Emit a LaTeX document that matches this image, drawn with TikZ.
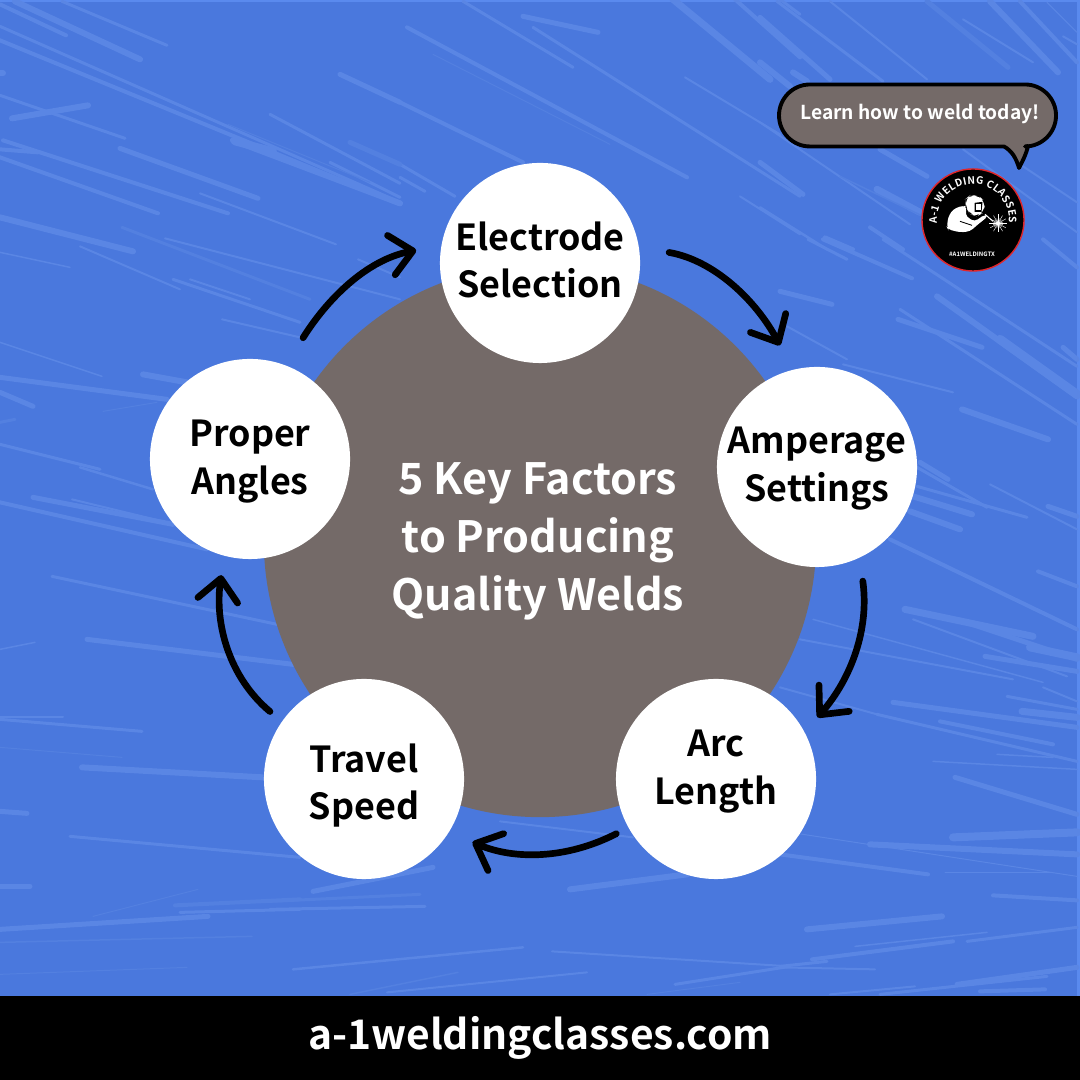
\documentclass[tikz,border=0pt]{standalone}
\usepackage{fontspec}
\setmainfont{Noto Sans CJK SC}[BoldFont={Noto Sans CJK SC Bold}]
\usetikzlibrary{arrows.meta, decorations.text}
\definecolor{wblue}{HTML}{4A78DD}
\definecolor{wstreak}{HTML}{5A86E4}
\definecolor{wfaint}{HTML}{5380E0}
\definecolor{wedge}{HTML}{5A8AEE}
\definecolor{wgray}{HTML}{746A68}
\definecolor{wred}{HTML}{E0262B}
\tikzset{
  factor/.style={circle, fill=white, inner sep=0pt, minimum size=2cm},
  factortext/.style={
    align=center, inner sep=0pt, font=\fontsize{10.2}{13.5}\selectfont\bfseries
  },
  flow/.style={
    line width=1.9pt, line cap=round, line join=round,
    -{Straight Barb[length=2.2mm, width=4mm, round]}
  },
  streak/.style={wstreak, line cap=round},
  pxgrid/.style={y=-0.01cm, yshift=10.8cm},
  lab/.style={text=#1, font=\bfseries}
}
\begin{document}
\begin{tikzpicture}[x=0.01cm, y=0.01cm]
  \useasboundingbox (0,0) rectangle (1080,1080);
  \fill[wblue] (0,0) rectangle (1080,1080);
  \fill[wedge] (0,1078) rectangle (1080,1080);
  \fill[wedge] (1077,84) rectangle (1080,1080);

  % sparks behind everything, in pixels from the top left
  \begin{scope}[pxgrid]
    \foreach \xa/\ya/\xb/\yb/\w in {
      0/5/66/36/4, 15/2/140/60/6, 62/2/167/46/3, 0/27/400/203/3, 0/41/400/205/4,
      0/74/3/74/6, 0/96/125/139/3, 12/119/88/106/6, 3/141/228/214/4, 0/150/38/153/4,
      0/158/158/214/4, 120/149/258/199/5, 233/141/400/204/6, 235/142/273/152/8,
      270/115/400/184/3, 340/75/400/103/5, 330/163/400/198/3, 200/194/336/245/2,
      0/218/133/252/6, 0/253/70/268/1.5, 80/247/180/290/2, 165/239/400/300/2,
      190/280/250/300/2, 358/260/400/278/2,
      407/28/687/178/4, 463/2/573/68/3, 523/17/598/33/5, 533/28/800/197/3,
      400/103/523/163/4, 400/165/455/197/3, 400/178/425/192/3, 673/0/770/80/7,
      735/0/800/58/4, 780/0/800/15/3, 685/78/780/135/2, 740/197/800/235/2,
      777/2/883/82/3, 760/18/830/80/5, 830/2/927/80/2, 760/63/790/87/6, 793/73/807/82/6,
      963/20/1033/63/2, 990/2/1058/73/6, 1020/2/1077/63/4, 1063/37/1077/45/2,
      1047/3/1077/33/1, 760/123/910/225/2, 760/163/803/195/5, 880/150/927/177/5,
      877/190/920/213/7, 760/208/827/250/2.5, 825/238/853/250/4, 870/228/903/250/4,
      963/150/1077/233/2, 1017/163/1077/203/2, 1043/240/1077/268/4,
      823/240/912/279/4, 808/240/847/260/3, 883/240/1077/367/3, 937/297/1077/397/6,
      1000/340/1077/395/9, 900/310/1077/425/3, 898/320/982/348/5, 962/410/1048/440/6,
      1063/348/1077/360/5, 780/292/832/305/5, 787/327/847/360/2, 843/365/953/393/2,
      920/463/948/480/5, 917/468/987/508/3, 917/487/1027/518/3, 913/497/972/515/6,
      910/512/960/530/6, 990/485/1077/530/2, 1048/507/1077/517/5, 890/540/1077/630/4,
      1038/572/1077/587/4, 905/610/1033/637/7, 957/620/1077/660/5, 1030/648/1077/658/8,
      985/657/1077/672/5, 913/620/1067/677/2, 800/640/1013/680/2, 813/620/1043/683/1.5,
      1043/688/1077/702/2, 1007/697/1077/710/3, 1022/712/1077/718/7, 893/703/1077/728/5,
      877/715/1077/762/3, 940/722/1053/745/4, 780/688/877/715/2, 997/755/1053/758/1.5,
      933/762/1077/770/1.5, 955/778/1077/815/5, 953/838/1077/833/8, 870/845/1077/855/6,
      790/833/1077/877/1, 945/873/1050/873/1, 780/855/928/875/4, 993/896/1077/901/4,
      807/930/942/917/6, 855/947/987/933/1.5, 812/960/953/942/4, 967/942/1077/928/3,
      780/968/875/970/2, 780/967/827/962/3, 957/985/1077/968/5, 830/995/915/987/2,
      880/995/1047/977/3, 980/992/1045/990/4,
      0/343/102/377/1.5, 0/378/167/400/5, 0/393/33/407/5, 143/375/187/383/6,
      0/445/100/470/3, 80/468/153/490/2.5, 33/498/173/525/5, 72/500/167/523/2,
      0/503/207/550/4, 52/577/277/625/3, 222/320/300/338/2, 173/280/300/323/3,
      0/650/35/643/1.5, 87/640/293/665/5, 0/718/63/718/2, 0/720/142/732/3,
      82/768/263/778/6, 0/812/27/814/5, 70/837/300/858/3, 0/887/30/887/5,
      180/913/300/910/3, 0/930/208/917/5, 313/892/433/868/5, 270/910/425/907/3,
      570/890/687/875/6, 293/970/523/948/2.5, 387/993/587/973/2, 552/952/790/967/2,
      675/985/790/967/3, 500/822/633/838/2} {
      \draw[streak, line width=\w*0.2845pt] (\xa,\ya) -- (\xb,\yb);
    }
    \foreach \xa/\ya/\xb/\yb/\w in {
      350/143/400/165/5, 228/125/370/183/1, 122/228/310/300/3, 433/55/610/145/1,
      927/2/1008/68/5, 840/177/923/217/1.5, 103/412/157/403/1, 0/423/15/420/3,
      0/748/122/758/1, 93/917/198/890/1, 175/906/300/900/4, 0/943/252/937/1.5,
      0/975/187/968/1, 270/902/420/895/3, 350/995/458/973/1.5, 647/995/740/983/1} {
      \draw[wfaint, line cap=round, line width=\w*0.2845pt] (\xa,\ya) -- (\xb,\yb);
    }
  \end{scope}

  \node[circle, fill=wgray, inner sep=0pt, minimum size=5.52cm] (hub) at (540,539) {};

  \node[factor, label={[factortext, yshift=0.03cm]center:{Electrode\\Selection}}] (electrode) at (540,817) {};
  \node[factor, label={[factortext, yshift=-0.015cm]center:{Amperage\\Settings}}] (amperage) at (817,613) {};
  \node[factor, label={[factortext, yshift=0.075cm]center:{Arc\\Length}}] (arc) at (716,301) {};
  \node[factor, label={[factortext, yshift=-0.065cm]center:{Travel\\Speed}}] (travel) at (364,301) {};
  \node[factor, label={[factortext, yshift=-0.025cm]center:{Proper\\Angles}}] (angles) at (250,621) {};

  \draw[flow, shorten <=3mm, shorten >=2.7mm] (electrode.9) to[out=-10, in=118] (amperage.104);
  \draw[flow, shorten <=2.3mm, shorten >=1.9mm] (amperage.-65) to[out=-82, in=49] (arc.28);
  \draw[flow, shorten <=1.3mm, shorten >=2.5mm] (arc.209) to[out=207, in=-23] (travel.-32);
  \draw[flow, shorten <=1.5mm, shorten >=1.9mm] (travel.145) to[out=140, in=262] (angles.255);
  \draw[flow, shorten <=3.2mm, shorten >=2.5mm] (angles.69) to[out=58, in=191] (electrode.170);

  \node[lab=white, align=center, font=\fontsize{12.25}{16.4}\selectfont\bfseries] (title) at (538,538.5)
    {5 Key Factors\\to Producing\\Quality Welds};

  % speech bubble
  \draw[fill=wgray, draw=black, line width=1.1pt, line join=round]
    (810,995.5) -- (1025,995.5) arc[start angle=90, end angle=-90, radius=31] -- (1028,934)
    .. controls (1026,925) and (1022,918) .. (1019,912)
    .. controls (1016,922) and (1012,929) .. (1004,933.5)
    -- (810,933.5) arc[start angle=270, end angle=90, radius=31] -- cycle;
  \node[lab=white, font=\fontsize{5.46}{7}\selectfont\bfseries] (learn) at (920,966) {Learn how to weld today!};

  % logo badge
  \node[circle, fill=black, draw=wred, line width=0.4pt, inner sep=0pt, minimum size=1.02cm] (badge) at (973,860) {};
  \path[decorate, decoration={text along path, text align={fit to path},
      text={|\fontsize{2.9}{3}\selectfont\bfseries\color{white}|A-1 WELDING CLASSES}}]
    (937.1,856.9) arc[start angle=185, end angle=-5, radius=36];
  \node[lab=white, font=\fontsize{1.7}{2.5}\selectfont\bfseries, inner sep=0pt] (tag) at (972,826) {\#A1WELDINGTX};
  \begin{scope}[pxgrid]
    \fill[white, rounded corners=1pt] (947,228) -- (948,218) -- (953,210) -- (963,206) -- (967,208)
      -- (965,215) -- (970,220) -- (975,222) -- (985,215) -- (988,217) -- (978,225) -- (970,232)
      -- (960,233) -- (948,230) -- cycle;
    \fill[white, rounded corners=2pt] (965,200) -- (970,196) -- (978,196) -- (985,202) -- (984,213)
      -- (977,217) -- (970,215) -- (966,208) -- cycle;
    \fill[black] (974.5,203.5) -- (982.5,202.5) -- (981.5,212.5) -- (974.5,212.5) -- cycle;
    \fill[white] (976,205) rectangle (981,210.5);
    \draw[black, line width=0.25pt] (960,222) -- (972,226);
    \draw[white, line width=0.3pt] (985,215) -- (993,222);
    \coordinate (spark) at (998,224);
    \foreach \ang in {0,30,...,330} {
      \draw[white, line width=0.12pt] (spark) -- ++(\ang:9);
      \draw[white, line width=0.12pt] (spark) -- ++(\ang+15:5);
    }
    \fill[white] (spark) circle[radius=2];
  \end{scope}

  \fill[black] (0,0) rectangle (1080,84);
  \node[lab=white, font=\fontsize{11.6}{14}\selectfont\bfseries] (site) at (540,42) {a-1weldingclasses.com};
\end{tikzpicture}
\end{document}
